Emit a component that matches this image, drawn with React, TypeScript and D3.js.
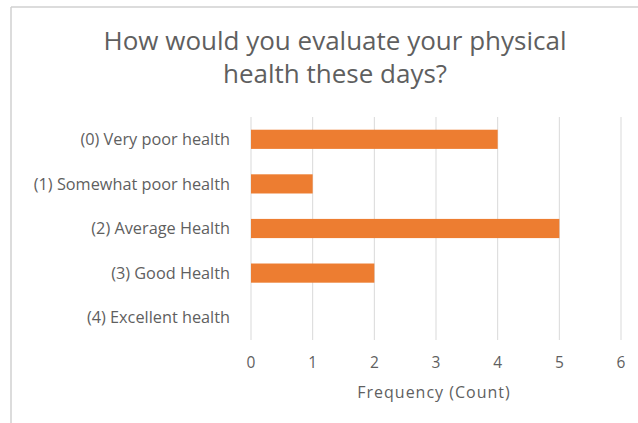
import React from "react";
import * as d3 from "d3";

const categories = [
  "(0) Very poor health",
  "(1) Somewhat poor health",
  "(2) Average Health",
  "(3) Good Health",
  "(4) Excellent health",
];
const counts = [4, 1, 5, 2, 0];
const xTicks = [0, 1, 2, 3, 4, 5, 6];
const titleLines = ["How would you evaluate your physical", "health these days?"];
const xTitle = "Frequency (Count)";

const W = 638;
const H = 423;
const FONT = "'Open Sans', sans-serif";

export default function App() {
  const x = d3.scaleLinear().domain([0, 6]).range([251, 621]);
  const y = d3.scaleBand<string>().domain(categories).range([117, 340]).paddingInner(0.57).paddingOuter(0.285);
  const grid = "#d9d9d9";
  const text = "#5f5f5f";
  return (
    <svg width={W} height={H} style={{ position: "absolute", left: 0, top: 0, background: "#fff" }}>
      <rect x={0} y={0} width={W} height={H} fill="#fff" />
      <line x1={11} y1={7} x2={W} y2={7} stroke="#d0d0d0" strokeWidth={1.5} />
      <line x1={11} y1={7} x2={11} y2={H} stroke="#d0d0d0" strokeWidth={1.5} />
      {titleLines.map((t, i) => (
        <text key={t} x={335} y={50 + i * 33} textAnchor="middle" fontFamily={FONT} fontSize={26} fill={text}>
          {t}
        </text>
      ))}
      {xTicks.map((t) => (
        <g key={t}>
          <line x1={x(t)} x2={x(t)} y1={117} y2={340} stroke={grid} strokeWidth={1} />
          <text x={x(t)} y={368} textAnchor="middle" fontFamily={FONT} fontSize={15.5} fill={text}>
            {t}
          </text>
        </g>
      ))}
      {categories.map((c, i) => (
        <g key={c}>
          {counts[i] > 0 && (
            <rect x={x(0)} y={y(c)!} width={x(counts[i]) - x(0)} height={y.bandwidth()} fill="#ed7d31" />
          )}
          <text
            x={230}
            y={y(c)! + y.bandwidth() / 2}
            dy="0.35em"
            textAnchor="end"
            fontFamily={FONT}
            fontSize={16.3}
            fill={text}
          >
            {c}
          </text>
        </g>
      ))}
      <text x={434} y={398} textAnchor="middle" fontFamily={FONT} fontSize={16} letterSpacing={1} fill={text}>
        {xTitle}
      </text>
    </svg>
  );
}
